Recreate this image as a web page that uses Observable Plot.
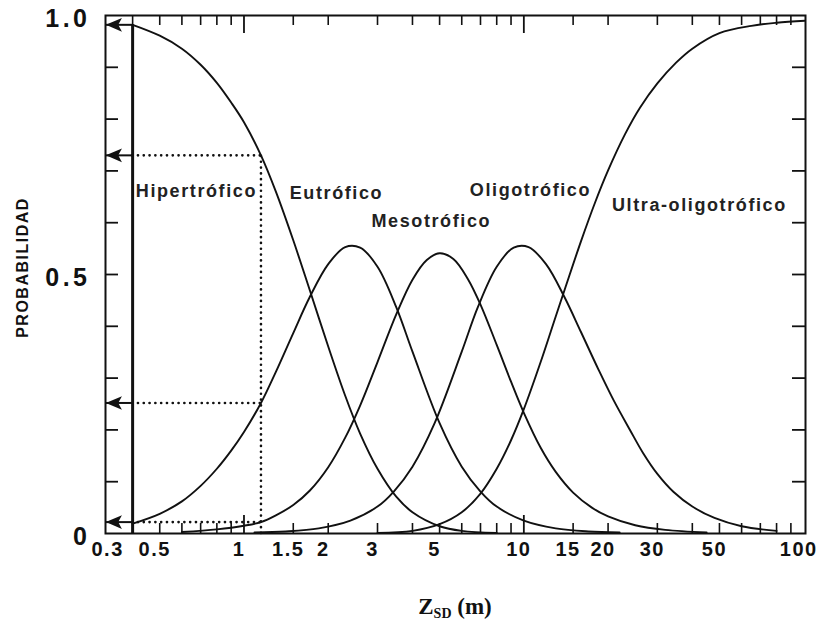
<!DOCTYPE html>
<html>
<head>
<meta charset="utf-8">
<script src="https://cdn.jsdelivr.net/npm/d3@7"></script>
<script src="https://cdn.jsdelivr.net/npm/@observablehq/plot@0.6"></script>
<style>
  body { margin: 0; background: #fff; }
  svg { display: block; }
</style>
</head>
<body>
<div id="chart"></div>
<script>
// ---- Data (probability vs Secchi depth, m) ----
const hiperX = [0.4, 0.5, 0.6, 0.7, 0.8, 0.9, 1.0, 1.15, 1.3, 1.5, 1.72, 2.0, 2.3, 2.6, 3.0, 3.5, 4.0, 5.0, 6.0, 8.0];
const hiperY = [0.982, 0.961, 0.936, 0.905, 0.870, 0.832, 0.794, 0.730, 0.660, 0.566, 0.469, 0.361, 0.266, 0.193, 0.125, 0.071, 0.041, 0.014, 0.005, 0.001];

const eutroX = [0.4, 0.5, 0.6, 0.7, 0.8, 0.9, 1.0, 1.15, 1.3, 1.5, 1.72, 2.0, 2.3, 2.6, 3.0, 3.5, 4.0, 5.0, 6.0, 7.0, 8.0, 10, 13, 17, 22];
const eutroY = [0.019, 0.038, 0.062, 0.092, 0.125, 0.160, 0.196, 0.252, 0.312, 0.387, 0.457, 0.520, 0.553, 0.552, 0.515, 0.437, 0.351, 0.213, 0.129, 0.081, 0.052, 0.025, 0.010, 0.004, 0.002];

const mesoX = [0.6, 0.8, 1.0, 1.15, 1.3, 1.5, 1.72, 2.0, 2.3, 2.6, 3.0, 3.5, 4.0, 4.5, 5.0, 5.6, 6.3, 7.0, 8.0, 9.0, 10, 11.5, 13, 15, 17.5, 20, 25, 32, 45];
const mesoY = [0.003, 0.008, 0.015, 0.022, 0.035, 0.055, 0.083, 0.128, 0.185, 0.247, 0.331, 0.423, 0.490, 0.528, 0.541, 0.530, 0.492, 0.442, 0.364, 0.293, 0.233, 0.165, 0.119, 0.079, 0.050, 0.033, 0.016, 0.007, 0.002];

const oligoX = [1.09, 1.41, 1.85, 2.4, 3.0, 3.43, 4.0, 4.8, 6.0, 6.85, 8.0, 9.2, 10.4, 12, 13.95, 16, 18.5, 20.9, 24, 26.7, 30, 34.3, 40, 48, 60, 80];
const oligoY = [0.002, 0.004, 0.010, 0.025, 0.052, 0.081, 0.129, 0.213, 0.351, 0.437, 0.515, 0.552, 0.553, 0.520, 0.457, 0.389, 0.316, 0.258, 0.199, 0.155, 0.115, 0.080, 0.052, 0.030, 0.014, 0.005];

const ultraX = [3.0, 4.0, 5.0, 6.0, 7.0, 8.0, 9.0, 10, 11.5, 13, 14, 16, 18, 20, 23, 26, 30, 35, 40, 50, 65, 80, 101.5];
const ultraY = [0.001, 0.005, 0.018, 0.041, 0.077, 0.125, 0.180, 0.240, 0.332, 0.419, 0.471, 0.564, 0.640, 0.701, 0.771, 0.822, 0.869, 0.909, 0.936, 0.966, 0.980, 0.986, 0.990];

const categories = ["Hipertrófico", "Eutrófico", "Mesotrófico", "Oligotrófico", "Ultra-oligotrófico"];
// label anchor positions (data coordinates)
const labelX = [0.676, 2.14, 4.67, 10.56, 42.4];
const labelY = [0.660, 0.656, 0.602, 0.663, 0.634];

// reading lines
const refX = 0.4;          // thick vertical line
const probeX = 1.15;       // dotted vertical line
const arrowY = [0.982, 0.73, 0.252, 0.022];
const dottedY = [0.73, 0.252, 0.022];

// axes
const xDomain = [0.32, 101.5];
const xTickValues = [0.3, 0.5, 1, 1.5, 2, 3, 5, 10, 15, 20, 30, 50, 100];
const xTickLabels = ["0.3", "0.5", "1", "1.5", "2", "3", "5", "10", "15", "20", "30", "50", "100"];
const xMinor = [0.4, 0.5, 0.6, 0.7, 0.8, 0.9, 1.5, 2, 3, 4, 5, 6, 7, 8, 9, 15, 20, 30, 40, 50, 60, 70, 80, 90];
const xMajor = [1, 10];
const yTickValues = [0, 0.5, 1];
const yTickLabels = ["0", "0.5", "1.0"];
const yMinor = [0.1, 0.2, 0.3, 0.4, 0.5, 0.6, 0.7, 0.8, 0.9];

// ---- Build table ----
const series = [
  [hiperX, hiperY], [eutroX, eutroY], [mesoX, mesoY], [oligoX, oligoY], [ultraX, ultraY]
];
const rows = series.flatMap(([xs, ys], k) => xs.map((x, i) => ({type: categories[k], x, y: ys[i]})));
const labels = categories.map((name, i) => ({name, x: labelX[i], y: labelY[i]}));
const xFirst = xTickValues.slice(0, 1).map((v, i) => ({v, t: xTickLabels[i]}));
const xRest = xTickValues.slice(1).map((v, i) => ({v, t: xTickLabels[i + 1]}));
const yLab = yTickValues.map((v, i) => ({v, t: yTickLabels[i]}));

const W = 822, H = 623, mL = 105, mR = 17, mT = 15, mB = 90;
const fw = W - mL - mR, fh = H - mT - mB;
const ink = "#111";

// left-pointing barbed arrowhead symbol
const arrowHead = {
  draw(ctx, size) {
    const s = Math.sqrt(size);
    ctx.moveTo(-0.7 * s, 0);
    ctx.lineTo(0.6 * s, -0.55 * s);
    ctx.lineTo(0.3 * s, 0);
    ctx.lineTo(0.6 * s, 0.55 * s);
    ctx.closePath();
  }
};

const plot = Plot.plot({
  width: W, height: H,
  marginLeft: mL, marginRight: mR, marginTop: mT, marginBottom: mB,
  style: {fontFamily: "'Liberation Sans', Arial, Helvetica, sans-serif", background: "#fff", color: ink, overflow: "visible"},
  x: {type: "log", domain: xDomain, axis: null},
  y: {domain: [0, 1], axis: null},
  marks: [
    // inward ticks
    Plot.tickX(xMinor, {x: d => d, insetTop: fh - 10, stroke: ink, strokeWidth: 1.6}),
    Plot.tickX(xMinor, {x: d => d, insetBottom: fh - 10, stroke: ink, strokeWidth: 1.6}),
    Plot.tickX(xMajor, {x: d => d, insetTop: fh - 18, stroke: ink, strokeWidth: 1.8}),
    Plot.tickX(xMajor, {x: d => d, insetBottom: fh - 18, stroke: ink, strokeWidth: 1.8}),
    Plot.tickY(yMinor, {y: d => d, insetRight: fw - 13, stroke: ink, strokeWidth: 1.8}),
    Plot.tickY(yMinor, {y: d => d, insetLeft: fw - 13, stroke: ink, strokeWidth: 1.8}),
    // reading guides
    Plot.ruleY(dottedY, {y: d => d, x1: () => refX, x2: () => probeX, stroke: ink, strokeWidth: 2.6, strokeDasharray: "0.1,5.7", strokeLinecap: "round"}),
    Plot.ruleX([probeX], {x: d => d, y1: () => 0, y2: () => dottedY[0], stroke: ink, strokeWidth: 2.6, strokeDasharray: "0.1,5.7", strokeLinecap: "round"}),
    Plot.ruleX([refX], {x: d => d, y1: () => 0, y2: () => arrowY[0], stroke: ink, strokeWidth: 3}),
    Plot.ruleY(arrowY, {y: d => d, x1: () => refX, x2: () => xDomain[0], stroke: ink, strokeWidth: 2}),
    Plot.dot(arrowY, {x: () => xDomain[0], y: d => d, symbol: arrowHead, r: 7, dx: 9, fill: ink, stroke: "none"}),
    // curves
    Plot.line(rows, {x: "x", y: "y", z: "type", curve: "catmull-rom", stroke: ink, strokeWidth: 1.9, clip: true}),
    // curve labels
    Plot.text(labels, {x: "x", y: "y", text: "name", fontSize: 18, fontWeight: "bold", fill: "#222"}),
    // tick labels
    Plot.text(xFirst, {x: "v", text: "t", frameAnchor: "bottom", dy: 22, dx: 10, fontSize: 20, fontWeight: "bold", fill: ink}),
    Plot.text(xRest, {x: "v", text: "t", frameAnchor: "bottom", dy: 22, dx: -5, fontSize: 20, fontWeight: "bold", fill: ink}),
    Plot.text(yLab, {y: "v", text: "t", frameAnchor: "left", textAnchor: "end", dx: -15, dy: 3, fontSize: 25, fontWeight: "bold", fill: ink}),
    Plot.text(["PROBABILIDAD"], {text: d => d, frameAnchor: "left", textAnchor: "middle", rotate: -90, dx: -83, dy: -7, fontSize: 16, fontWeight: "bold", fill: ink}),
    Plot.frame({stroke: ink, strokeWidth: 2})
  ]
});

// letter spacing per text group (in mark order)
const svg = d3.select(plot);
const textGroups = svg.selectAll('g[aria-label="text"]').nodes();
const spacing = ["1.6px", "1.5px", "1.5px", "3.5px", "1.5px"];
textGroups.forEach((g, i) => d3.select(g).style("letter-spacing", spacing[i] || "0px"));

// x-axis title with subscript
const t = svg.append("text")
  .attr("x", mL + fw / 2)
  .attr("y", H - 9)
  .attr("text-anchor", "middle")
  .attr("font-family", "'Liberation Serif', 'Times New Roman', serif")
  .attr("font-weight", "bold")
  .attr("font-size", 23)
  .attr("fill", ink);
t.append("tspan").text("Z");
t.append("tspan").attr("font-size", 14).attr("dy", 4).text("SD");
t.append("tspan").attr("dy", -4).text(" (m)");

document.getElementById("chart").appendChild(plot);
</script>
</body>
</html>
